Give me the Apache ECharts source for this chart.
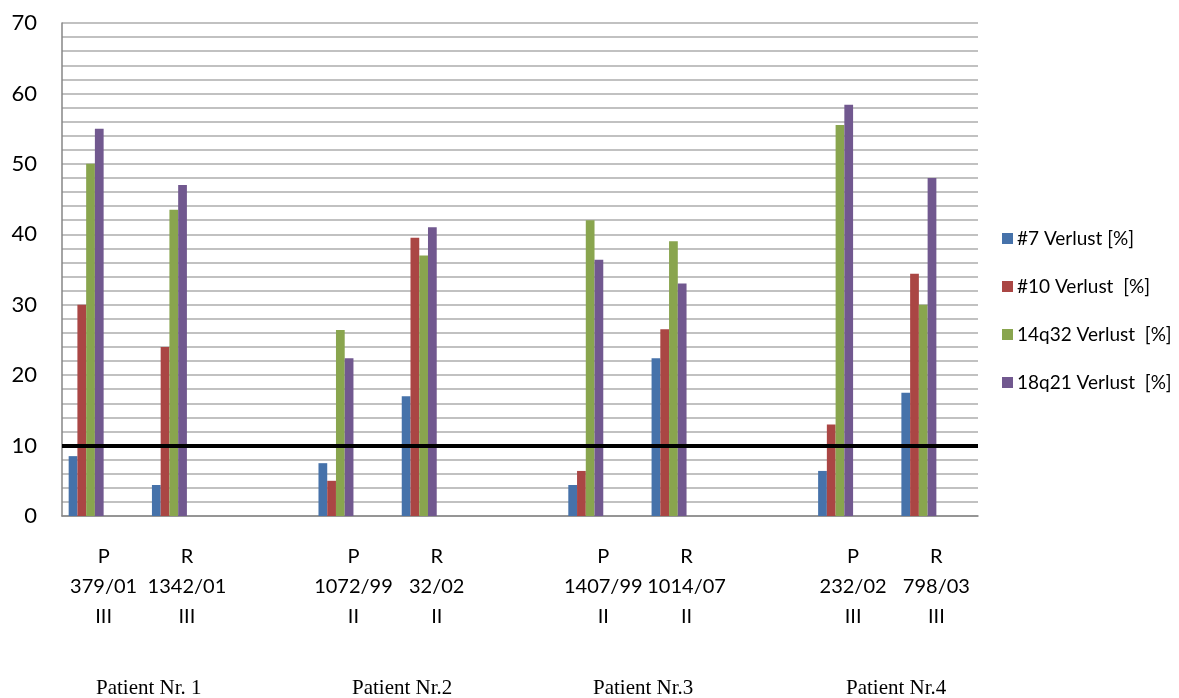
<!DOCTYPE html>
<html>
<head>
<meta charset="utf-8">
<script src="https://cdn.jsdelivr.net/npm/echarts@6/dist/echarts.min.js"></script>
<style>html,body{margin:0;padding:0;background:#fff;}#c{width:1179px;height:698px;}</style>
</head>
<body>
<div id="c"></div>
<script>
const categories = ['P\n379/01\nIII', 'R\n1342/01\nIII', '', 'P\n1072/99\nII', 'R\n32/02\nII', '', 'P\n1407/99\nII', 'R\n1014/07\nII', '', 'P\n232/02\nIII', 'R\n798/03\nIII'];
const seriesNames = ['#7 Verlust [%]', '#10 Verlust  [%]', '14q32 Verlust  [%]', '18q21 Verlust  [%]'];
const loss7    = [8.5, 4.4, '-', 7.5, 17, '-', 4.4, 22.4, '-', 6.4, 17.5];
const loss10   = [30, 24, '-', 5, 39.5, '-', 6.4, 26.5, '-', 13, 34.4];
const loss14q32 = [50, 43.5, '-', 26.4, 37, '-', 42, 39, '-', 55.5, 30];
const loss18q21 = [55, 47, '-', 22.4, 41, '-', 36.4, 33, '-', 58.4, 48];
const threshold = 10;
const patientLabels = ['Patient Nr. 1', 'Patient Nr.2', 'Patient Nr.3', 'Patient Nr.4'];

const colors = ['#4672AA', '#AA4644', '#89A54E', '#71588F'];
const values = [loss7, loss10, loss14q32, loss18q21];

const chart = echarts.init(document.getElementById('c'), null, {renderer: 'canvas'});
const series = values.map((d, i) => ({
  name: seriesNames[i],
  type: 'bar',
  data: d,
  barGap: '0%',
  barCategoryGap: '16%',
  itemStyle: {color: colors[i]},
  animation: false
}));
// empty slots reserved in each category (as in the original chart)
for (let k = 0; k < 4; k++) {
  series.push({name: 'slot' + k, type: 'bar', data: [], barGap: '0%', barCategoryGap: '16%', animation: false});
}
series[0].markLine = {
  silent: true,
  symbol: 'none',
  animation: false,
  label: {show: false},
  lineStyle: {color: '#000', width: 4, type: 'solid'},
  data: [{yAxis: threshold}]
};

const patientX = [150, 406, 647, 900];
chart.setOption({
  animation: false,
  grid: {left: 62, right: 201, top: 23, bottom: 182, containLabel: false},
  legend: {
    data: seriesNames,
    orient: 'vertical',
    left: 997,
    top: 224,
    itemWidth: 11,
    itemHeight: 11,
    itemGap: 29,
    icon: 'rect',
    textStyle: {fontFamily: 'Lato', fontSize: 19, color: '#000', padding: [0, 0, 0, -1]}
  },
  xAxis: {
    type: 'category',
    data: categories,
    axisLine: {lineStyle: {color: '#868686', width: 1.5}},
    axisTick: {show: false},
    axisLabel: {interval: 0, fontFamily: 'Lato', fontSize: 20, color: '#000', lineHeight: 30, margin: 26}
  },
  yAxis: {
    type: 'value',
    min: 0,
    max: 70,
    interval: 2,
    axisLine: {show: true, lineStyle: {color: '#868686', width: 1.5}},
    axisTick: {show: false},
    axisLabel: {
      fontFamily: 'Lato', fontSize: 22, color: '#000', margin: 25,
      formatter: v => (v % 10 === 0 ? String(v) : '')
    },
    splitLine: {lineStyle: {color: '#adadad', width: 1.5}}
  },
  graphic: patientLabels.map((t, i) => ({
    type: 'text',
    left: patientX[i] - 54,
    top: 678,
    style: {text: t, font: '21px "Liberation Serif"', fill: '#000'}
  })),
  series: series
});
</script>
</body>
</html>
